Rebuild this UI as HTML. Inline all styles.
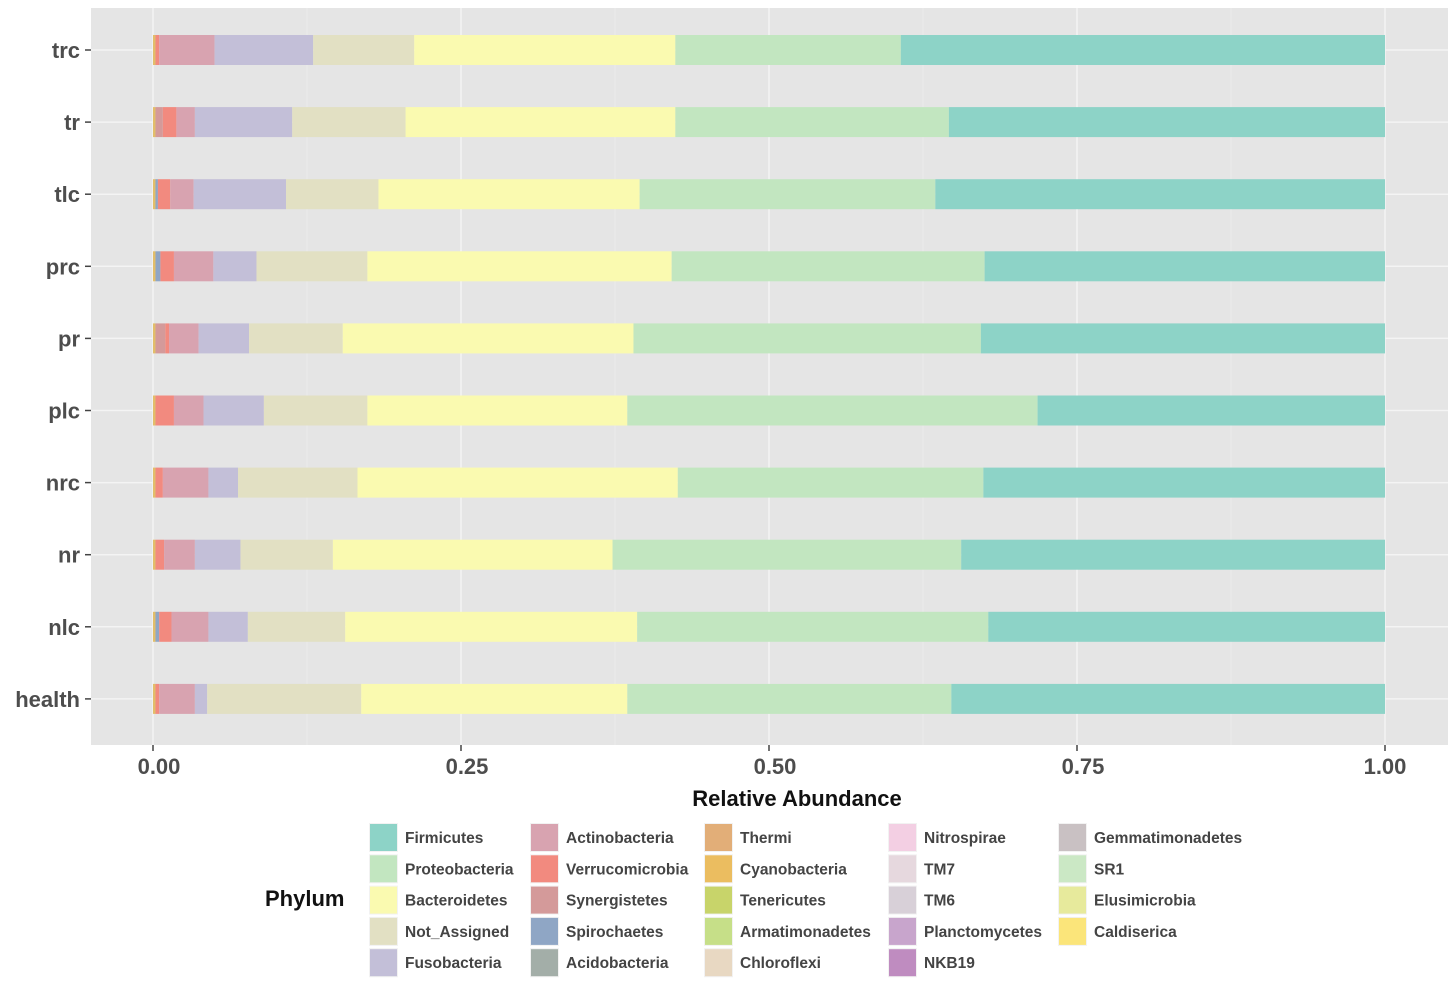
<!DOCTYPE html>
<html><head><meta charset="utf-8"><style>
body{margin:0;background:#fff;font-family:"Liberation Sans",sans-serif}
</style></head><body>
<svg id="chart" width="1455" height="985" xmlns="http://www.w3.org/2000/svg" font-family="Liberation Sans, sans-serif"></svg>
<script>
const categories=["trc","tr","tlc","prc","pr","plc","nrc","nr","nlc","health"];
const otherVals=[0.002,0.002,0.002,0.002,0.002,0.002,0.002,0.002,0.002,0.002];
const spiroVals=[0,0,0.002,0.004,0,0,0,0,0.003,0];
const synergVals=[0,0.006,0,0,0.008,0,0,0,0,0];
const verrucoVals=[0.003,0.011,0.010,0.011,0.003,0.015,0.006,0.007,0.010,0.003];
const actinoVals=[0.045,0.015,0.019,0.032,0.024,0.024,0.037,0.025,0.030,0.029];
const fusoVals=[0.080,0.079,0.075,0.035,0.041,0.049,0.024,0.037,0.032,0.010];
const notAssignedVals=[0.082,0.092,0.075,0.090,0.076,0.084,0.097,0.075,0.079,0.125];
const bacteroVals=[0.212,0.219,0.212,0.247,0.236,0.211,0.260,0.227,0.237,0.216];
const proteoVals=[0.183,0.222,0.240,0.254,0.282,0.333,0.248,0.283,0.285,0.263];
const firmiVals=[0.393,0.354,0.365,0.325,0.328,0.282,0.326,0.344,0.322,0.352];
const xTicks=[0,0.25,0.5,0.75,1];
const xTickLabels=["0.00","0.25","0.50","0.75","1.00"];
const legendItems=[["Firmicutes","#8dd3c7"],["Proteobacteria","#c2e6c0"],["Bacteroidetes","#fafab0"],["Not_Assigned","#e2e0c3"],["Fusobacteria","#c3bfd8"],
["Actinobacteria","#d8a3b0"],["Verrucomicrobia","#f28a7f"],["Synergistetes","#d49a9a"],["Spirochaetes","#8fa6c5"],["Acidobacteria","#a3aea8"],
["Thermi","#e2ae78"],["Cyanobacteria","#ebbd60"],["Tenericutes","#c8d46a"],["Armatimonadetes","#c6df88"],["Chloroflexi","#e8d8c2"],
["Nitrospirae","#f3cfe3"],["TM7","#e6d8de"],["TM6","#d8d0d8"],["Planctomycetes","#c8a5cc"],["NKB19","#bf8cc0"],
["Gemmatimonadetes","#c9c1c3"],["SR1","#cbe8c5"],["Elusimicrobia","#e7ea9c"],["Caldiserica","#fbe57a"]];
const series=[[otherVals,"#e2be6a","other"],[spiroVals,"#8fa6c5","spirochaetes"],[synergVals,"#d49a9a","synergistetes"],[verrucoVals,"#f28a7f","verrucomicrobia"],[actinoVals,"#d8a3b0","actinobacteria"],[fusoVals,"#c3bfd8","fusobacteria"],[notAssignedVals,"#e2e0c3","not-assigned"],[bacteroVals,"#fafab0","bacteroidetes"],[proteoVals,"#c2e6c0","proteobacteria"],[firmiVals,"#8dd3c7","firmicutes"]];
const NS="http://www.w3.org/2000/svg";
const svg=document.getElementById("chart");
function el(t,a,p){const e=document.createElementNS(NS,t);for(const k in a)e.setAttribute(k,a[k]);(p||svg).appendChild(e);return e;}
const X0=153,X1=1385;
const xs=v=>X0+v*(X1-X0);
const ys=i=>50+i*72.1;
const panel=el("rect",{x:91,y:8,width:1357,height:737,fill:"#e5e5e5"});


for(let i=0;i<xTicks.length-1;i++){const m=el("line",{x1:xs((xTicks[i]+xTicks[i+1])/2),x2:xs((xTicks[i]+xTicks[i+1])/2),y1:8,y2:745,stroke:"#ebebeb","stroke-width":1});

}
xTicks.forEach((t,i)=>{const g=el("line",{x1:xs(t),x2:xs(t),y1:8,y2:745,stroke:"#f4f4f4","stroke-width":1.5});


const tk=el("line",{x1:xs(t),x2:xs(t),y1:745,y2:751,stroke:"#444","stroke-width":1.5});


const tl=el("text",{x:xs(t)+(i==4?0:6),y:774,"text-anchor":"middle","font-size":22,"font-weight":"bold",fill:"#4d4d4d"});tl.textContent=xTickLabels[i];

});
categories.forEach((c,i)=>{const y=ys(i);
const g=el("line",{x1:91,x2:1448,y1:y,y2:y,stroke:"#f4f4f4","stroke-width":1.5});


const tk=el("line",{x1:85,x2:91,y1:y,y2:y,stroke:"#444","stroke-width":1.5});


const tl=el("text",{x:80,y:y+8,"text-anchor":"end","font-size":22,"font-weight":"bold",fill:"#4d4d4d"});tl.textContent=c;


let cum=0;
series.forEach(s=>{const v=s[0][i];if(v>0){const r=el("rect",{x:xs(cum),y:y-15,width:xs(cum+v)-xs(cum),height:30,fill:s[1]});

}cum+=v;});
});
const at=el("text",{x:797,y:806,"text-anchor":"middle","font-size":22,"font-weight":"bold",fill:"#111"});at.textContent="Relative Abundance";


const lt=el("text",{x:265,y:906,"font-size":22,"font-weight":"bold",fill:"#111"});lt.textContent="Phylum";


const colX=[369,530,704,888,1058];
legendItems.forEach((it,k)=>{const col=Math.floor(k/5),row=k%5;const x=colX[col],y=823+row*31.3;
const bg=el("rect",{x:x,y:y,width:29,height:29,fill:"#f2f2f2"});


const r=el("rect",{x:x+1,y:y+1,width:27,height:27,fill:it[1]});


const t=el("text",{x:x+36,y:y+20,"font-size":15.5,"font-weight":"bold",fill:"#444"});t.textContent=it[0];

});
</script>
</body></html>
